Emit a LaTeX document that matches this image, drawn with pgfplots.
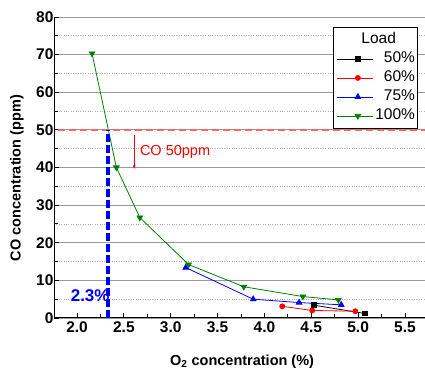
\documentclass[border=0pt]{standalone}
\usepackage{fontspec}
\setmainfont{Liberation Sans}
\usepackage{pgfplots}
\usetikzlibrary{arrows.meta}
\pgfplotsset{compat=1.18}
\definecolor{mygreen}{RGB}{0,128,0}
\definecolor{dashred}{RGB}{255,100,100}
\begin{document}
\begin{tikzpicture}[font=\fontsize{14}{16.8}\selectfont]
\begin{axis}[
  scale only axis, width=371pt, height=301pt,
  xmin=1.754, xmax=5.714, ymin=0, ymax=80,
  axis x line*=bottom, axis y line*=left,
  xtick={2,2.5,...,5.5}, ytick={0,10,...,80},
  minor xtick={2.25,2.75,...,5.25},
  minor ytick={5,15,...,75},
  ymajorgrids, yminorgrids,
  major grid style={black!40, line width=0.9pt},
  minor grid style={black!30, dotted, line width=0.8pt},
  tick align=inside, major tick length=5pt, minor tick length=4pt,
  tick style={black, line width=0.9pt},
  axis line style={line width=1pt},
  /pgf/number format/assume math mode=true,
  ticklabel style={font=\fontsize{15.5}{18}\selectfont\bfseries},
  yticklabel style={xshift=3pt},
  xticklabel style={/pgf/number format/.cd, fixed, fixed zerofill, precision=1},
  ylabel={\fontsize{14.5}{17}\selectfont\bfseries CO concentration (ppm)},
  ylabel style={at={(axis description cs:-0.1,0.465)}, anchor=center, rotate=0},
  xlabel={\fontsize{14.5}{17}\selectfont\bfseries O\textsubscript{2} concentration (\%)},
  xlabel style={at={(axis description cs:0.507,-0.146)}, anchor=center},
  legend cell align=right,
  legend style={at={(axis description cs:0.752,0.967)}, anchor=north west,
    draw=black, line width=1pt, inner xsep=3pt, inner ysep=5.5pt,
    font=\fontsize{15.5}{18}\selectfont, row sep=5pt, column sep=2pt,
    nodes={inner sep=0pt, text height=11pt, text depth=3pt}},
  legend image code/.code={
    \path (0pt,0pt) -- (6pt,0pt);
    \draw[mark repeat=2,mark phase=2, line width=0.8pt]
      plot coordinates {(6pt,0pt) (21pt,0pt) (36pt,0pt)};},
]
\addlegendimage{empty legend}
\addlegendentry{\makebox[20pt][r]{Load\kern19pt}}
\addplot[black, line width=0.8pt, mark=square*, mark size=2.3pt]
  coordinates {(4.53,3.4) (5.07,1.2)};
\addlegendentry{50\%}
\addplot[red, line width=0.8pt, mark=*, mark size=2.5pt]
  coordinates {(4.19,3.1) (4.51,2.0) (4.97,1.8)};
\addlegendentry{60\%}
\addplot[blue, line width=0.8pt, mark=triangle*, mark size=3.2pt]
  coordinates {(3.16,13.4) (3.88,5.0) (4.37,4.1) (4.82,3.5)};
\addlegendentry{75\%}
\addplot[mygreen, line width=0.8pt, mark=triangle*, mark options={rotate=180}, mark size=3.2pt]
  coordinates {(2.16,70.3) (2.42,40.0) (2.67,26.7) (3.19,14.2) (3.78,8.3) (4.41,5.7) (4.79,4.8)};
\addlegendentry{100\%}
\addplot[dashred, line width=1.6pt, dash pattern=on 7pt off 4pt, forget plot]
  coordinates {(1.80,50) (5.714,50)};
\addplot[blue, line width=3.5pt, dash pattern=on 8pt off 3pt, forget plot]
  coordinates {(2.33,0) (2.33,50)};
\draw[red, line width=0.8pt, -{Latex[length=4pt,width=3pt]}] (axis cs:2.61,48.6) -- (axis cs:2.61,39.5);
\node[red, anchor=west, inner sep=0pt, font=\fontsize{14.5}{17}\selectfont] at (axis cs:2.67,44.2) {CO 50ppm};
\node[blue, anchor=center, inner sep=0pt, font=\fontsize{17}{20}\selectfont\bfseries] at (axis cs:2.14,6.0) {2.3\%};
\coordinate (bbsw) at (axis description cs:-0.1456,-0.1728);
\coordinate (bbne) at (axis description cs:1,1.0565);
\end{axis}
\pgfresetboundingbox
\path (bbsw) rectangle (bbne);
\end{tikzpicture}
\end{document}
